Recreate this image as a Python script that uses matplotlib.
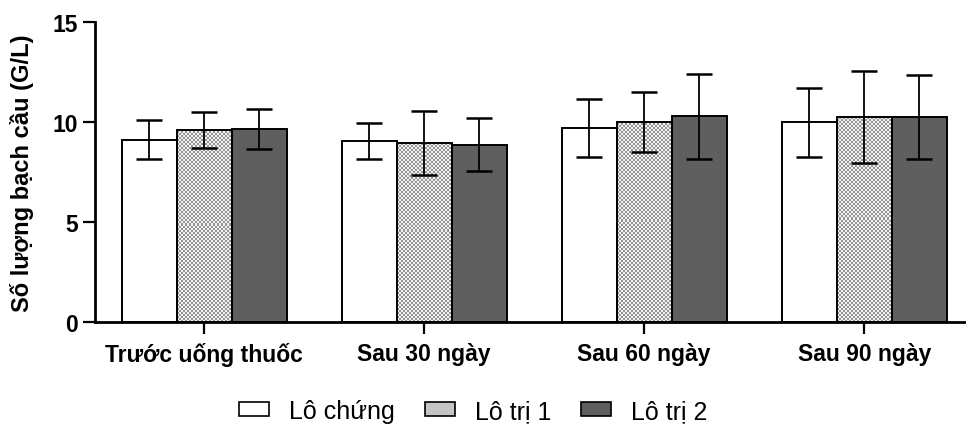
import numpy as np
import matplotlib
matplotlib.use('Agg')
import matplotlib.pyplot as plt
from matplotlib.patches import Patch

plt.rcParams['font.family'] = ['Liberation Sans', 'DejaVu Sans']

# data
groups = ['Trước uống thuốc', 'Sau 30 ngày', 'Sau 60 ngày', 'Sau 90 ngày']
series = ['Lô chứng', 'Lô trị 1', 'Lô trị 2']
lo_chung = [9.12, 9.03, 9.70, 9.98]
lo_chung_sd = [0.97, 0.90, 1.43, 1.73]
lo_tri1 = [9.60, 8.95, 10.00, 10.25]
lo_tri1_sd = [0.90, 1.58, 1.50, 2.30]
lo_tri2 = [9.65, 8.87, 10.28, 10.27]
lo_tri2_sd = [1.00, 1.33, 2.14, 2.10]

fig = plt.figure(figsize=(9.66, 4.27), dpi=100)
ax = fig.add_axes([0.0983, 0.2436, 0.9006, 0.7026])

x = np.arange(len(groups))
w = 0.25
xlim = (-0.497, 3.458)
ylim = (0, 15)

# checkerboard texture for the "Lô trị 1" bars
yy, xx = np.mgrid[0:150, 0:435]
checker = ((xx + yy) % 2).astype(float)
checker_cmap = matplotlib.colors.ListedColormap(['#f2f2f2', '#959595'])

styles = [dict(facecolor='white'), dict(facecolor='none'), dict(facecolor='#5f5f5f')]
vals = [lo_chung, lo_tri1, lo_tri2]
sds = [lo_chung_sd, lo_tri1_sd, lo_tri2_sd]

for i in range(3):
    pos = x + (i - 1) * w
    bars = ax.bar(pos, vals[i], width=w, edgecolor='black', linewidth=1.4,
                  zorder=2, **styles[i])
    if i == 1:
        for b in bars:
            im = ax.imshow(checker, cmap=checker_cmap, interpolation='nearest',
                           extent=[xlim[0], xlim[1], ylim[0], ylim[1]], aspect='auto',
                           origin='lower', zorder=1.5)
            im.set_clip_path(b)
    ax.errorbar(pos, vals[i], yerr=sds[i], fmt='none', ecolor='black',
                elinewidth=1.3, capsize=9.4, capthick=1.8, zorder=3)

ax.set_xlim(*xlim)
ax.set_ylim(*ylim)

ax.spines['top'].set_visible(False)
ax.spines['right'].set_visible(False)
ax.spines['left'].set_linewidth(2)
ax.spines['bottom'].set_linewidth(2)
ax.set_yticks([0, 5, 10, 15])
ax.set_xticks(x)
ax.set_xticklabels(groups, fontsize=16.5, fontweight='bold')
for t in ax.get_yticklabels():
    t.set_fontsize(16.5)
    t.set_fontweight('bold')
ax.tick_params(axis='both', length=8.5, width=1.6, pad=4)
ax.tick_params(axis='x', pad=6)
ax.set_ylabel('Số lượng bạch cầu (G/L)', fontsize=17, fontweight='bold', labelpad=13)

handles = [Patch(facecolor='white', edgecolor='black', linewidth=1.2),
           Patch(facecolor='#c4c4c4', edgecolor='black', linewidth=1.2),
           Patch(facecolor='#5f5f5f', edgecolor='black', linewidth=1.2)]
fig.legend(handles, series, loc='center', bbox_to_anchor=(0.49, 0.035), ncol=3,
           frameon=False, fontsize=18, handlelength=1.2, handleheight=0.45,
           handletextpad=0.8, columnspacing=1.2)

fig.savefig('out.png', dpi=100)
